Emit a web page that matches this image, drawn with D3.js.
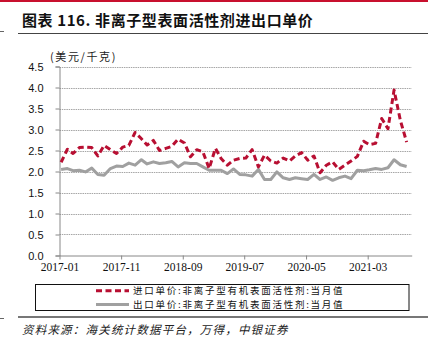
<!DOCTYPE html>
<html><head><meta charset="utf-8">
<script src="https://cdn.jsdelivr.net/npm/d3@7"></script>
<style>
html,body{margin:0;padding:0;background:#fff;}
svg{display:block;}
</style></head>
<body>
<script>
// ---- data ----
const startMonth = "2017-01";
const importPrice = [2.22,2.53,2.43,2.57,2.58,2.57,2.37,2.62,2.52,2.43,
2.58,2.62,2.93,2.78,2.63,2.74,2.50,2.55,2.60,2.77,
2.68,2.35,2.52,2.47,2.07,2.55,2.31,2.15,2.27,2.31,
2.32,2.52,2.11,2.39,2.25,2.20,2.32,2.25,2.37,2.45,
2.27,2.37,1.97,2.15,2.23,2.05,2.15,2.25,2.36,2.72,
2.64,2.67,3.26,3.02,3.94,3.22,2.70];
const exportPrice = [2.05,2.07,2.02,2.03,1.99,2.08,1.93,1.91,2.07,2.13,
2.12,2.20,2.15,2.28,2.18,2.23,2.19,2.21,2.24,2.11,
2.21,2.19,2.19,2.11,2.03,2.03,2.03,1.95,2.06,1.93,
1.92,1.89,2.05,1.81,1.81,1.99,1.85,1.81,1.85,1.83,
1.81,1.93,1.81,1.87,1.79,1.85,1.89,1.83,2.03,2.02,
2.04,2.07,2.05,2.09,2.28,2.16,2.12];
const yTicks = [0,0.5,1.0,1.5,2.0,2.5,3.0,3.5,4.0,4.5];
const xTickLabels = ["2017-01","2017-11","2018-09","2019-07","2020-05","2021-03"];
const seriesNames = ["进口单价:非离子型有机表面活性剂:当月值","出口单价:非离子型有机表面活性剂:当月值"];
const title = "图表 116. 非离子型表面活性剂进出口单价";
const unitLabel = "(美元/千克)";
const sourceText = "资料来源：海关统计数据平台，万得，中银证券";

// ---- layout ----
const W = 428, H = 345;
const parse = d3.timeParse("%Y-%m");
const fmt = d3.timeFormat("%Y-%m");
const t0 = parse(startMonth);
const months = importPrice.map((_, i) => d3.timeMonth.offset(t0, i));
// monthly values are plotted a few days into each month
const pointDate = d => d3.timeDay.offset(d, 8);

const svg = d3.select("body").append("svg").attr("width", W).attr("height", H);

// top red rule
svg.append("rect").attr("x",0).attr("y",0).attr("width",W).attr("height",2).attr("fill","#c8102e");

// title
svg.append("text").attr("x",22).attr("y",26)
  .attr("font-family","'Noto Sans CJK SC',sans-serif").attr("font-weight","bold")
  .attr("font-size",15).attr("letter-spacing",0.6).attr("fill","#111").text(title);
svg.append("line").attr("x1",18).attr("x2",W).attr("y1",33.5).attr("y2",33.5)
  .attr("stroke","#444").attr("stroke-width",1);
svg.append("line").attr("x1",0).attr("x2",4).attr("y1",31.5).attr("y2",31.5)
  .attr("stroke","#666").attr("stroke-width",1);

const x = d3.scaleTime()
  .domain([t0, d3.timeDay.offset(d3.timeMonth.offset(t0, 57), 3)])
  .range([59.5, 411.7]);
const y = d3.scaleLinear().domain([0, 4.5]).range([255.5, 66.5]);

// gridlines
svg.append("g").selectAll("line").data(yTicks.filter(v => v > 0)).join("line")
  .attr("x1", 59.5).attr("x2", 411.7)
  .attr("y1", d => Math.round(y(d)) + 0.5).attr("y2", d => Math.round(y(d)) + 0.5)
  .attr("stroke", "#a6a6a6").attr("stroke-width", 1).attr("stroke-dasharray", "1.5,0.8");

// y axis
const yAxis = d3.axisLeft(y).tickValues(yTicks).tickFormat(d3.format(".1f")).tickSize(4).tickPadding(12);
const gy = svg.append("g").attr("transform", "translate(59.5,0)").call(yAxis);
gy.select(".domain").attr("stroke", "#888");
gy.selectAll(".tick line").attr("stroke", "#888");
gy.selectAll(".tick text").attr("font-family", "'Liberation Sans',Arial,sans-serif")
  .attr("font-size", 11).attr("fill", "#111").attr("dy", "0.32em");

// x axis
const xTickDates = xTickLabels.map(parse);
const xAxis = d3.axisBottom(x).tickValues(xTickDates).tickFormat(fmt).tickSize(4).tickPadding(3).tickSizeOuter(0);
const gx = svg.append("g").attr("transform", "translate(0,255.5)").call(xAxis);
gx.select(".domain").attr("stroke", "#888");
gx.selectAll(".tick line").attr("stroke", "#888");
gx.selectAll(".tick text").attr("font-family", "'Liberation Serif','Times New Roman',serif")
  .attr("font-size", 11.5).attr("fill", "#111");

// unit label
svg.append("text").attr("x", 50).attr("y", 61)
  .attr("font-family", "'Noto Sans CJK SC',sans-serif").attr("font-size", 11)
  .attr("letter-spacing", 1.6).attr("fill", "#222").text(unitLabel);

// lines
const line = d3.line().x((d, i) => x(pointDate(months[i]))).y(d => y(d));
svg.append("path").datum(exportPrice).attr("d", line)
  .attr("fill", "none").attr("stroke", "#a0a0a0").attr("stroke-width", 3).attr("stroke-linejoin", "round");
svg.append("path").datum(importPrice).attr("d", line)
  .attr("fill", "none").attr("stroke", "#b80f32").attr("stroke-width", 3)
  .attr("stroke-dasharray", "6,3.5").attr("stroke-linejoin", "round");

// legend
const lg = svg.append("g");
lg.append("rect").attr("x", 35.5).attr("y", 284.5).attr("width", 373.5).attr("height", 26)
  .attr("fill", "#fff").attr("stroke", "#111").attr("stroke-width", 1);
const legendItems = [
  {name: seriesNames[0], color: "#b80f32", dash: "6,3.5", cy: 290.8},
  {name: seriesNames[1], color: "#a0a0a0", dash: null, cy: 304.6}
];
legendItems.forEach(it => {
  lg.append("line").attr("x1", 96).attr("x2", 129).attr("y1", it.cy).attr("y2", it.cy)
    .attr("stroke", it.color).attr("stroke-width", 3).attr("stroke-dasharray", it.dash);
  lg.append("text").attr("x", 133).attr("y", it.cy + 3.4)
    .attr("font-family", "'Noto Sans CJK SC',sans-serif").attr("font-size", 9.5)
    .attr("letter-spacing", 1.75).attr("fill", "#111").text(it.name);
});

// bottom rule and source
svg.append("line").attr("x1", 18).attr("x2", W).attr("y1", 317).attr("y2", 317)
  .attr("stroke", "#777").attr("stroke-width", 2);
svg.append("line").attr("x1", 0).attr("x2", 4).attr("y1", 318.5).attr("y2", 318.5)
  .attr("stroke", "#666").attr("stroke-width", 1);
svg.append("text").attr("x", 22).attr("y", 334)
  .attr("font-family", "'Noto Sans CJK SC',sans-serif").attr("font-size", 11.5)
  .attr("font-style", "italic").attr("letter-spacing", 1.2).attr("fill", "#222").text(sourceText);
</script>
</body></html>
